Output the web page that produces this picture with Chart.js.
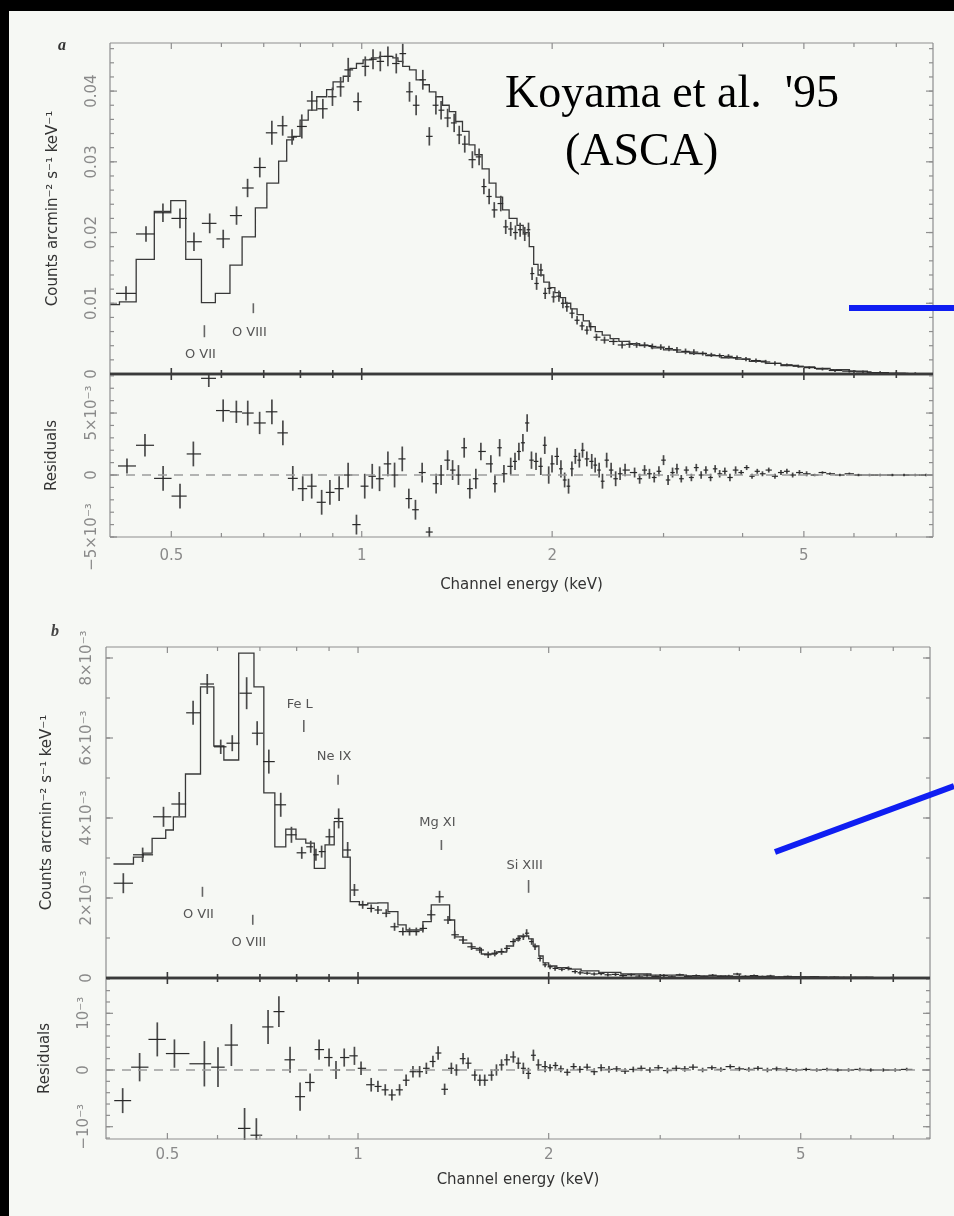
<!DOCTYPE html>
<html>
<head>
<meta charset="utf-8">
<script src="https://cdn.jsdelivr.net/npm/chart.js@4.4.1/dist/chart.umd.min.js"></script>
<style>
html,body{margin:0;padding:0;background:#000;width:954px;height:1216px;overflow:hidden;}
#bg{position:absolute;left:9px;top:11px;width:945px;height:1205px;background:#f6f8f4;}
canvas{position:absolute;}
#ov{position:absolute;left:0;top:0;pointer-events:none;}
</style>
</head>
<body>
<div id="bg"></div>
<canvas id="cA1"></canvas>
<canvas id="cA2"></canvas>
<canvas id="cB1"></canvas>
<canvas id="cB2"></canvas>
<svg id="ov" width="954" height="1216">
  <line x1="849" y1="308" x2="954" y2="308" stroke="#0f1ef2" stroke-width="6"/>
  <line x1="775" y1="852" x2="954" y2="786" stroke="#0f1ef2" stroke-width="6"/>
  <text x="505" y="107" font-family="'Liberation Serif','Times New Roman',serif" font-size="46" fill="#000" style="white-space:pre">Koyama et al.  '95</text>
  <text x="565" y="165" font-family="'Liberation Serif','Times New Roman',serif" font-size="46" fill="#000">(ASCA)</text>
  <text x="58" y="50" font-family="'Liberation Serif',serif" font-style="italic" font-weight="bold" font-size="16" fill="#333">a</text>
  <text x="51" y="636" font-family="'Liberation Serif',serif" font-style="italic" font-weight="bold" font-size="16" fill="#444">b</text>
</svg>
<script>
// ---------- axes ----------
const xMin = 0.4, xMax = 8;
const xTickVals = [0.5, 1, 2, 5];
const xTickLabels = ['0.5', '1', '2', '5'];
const xMinorTicks = [0.6, 0.7, 0.8, 0.9, 3, 4, 6, 7];
const xTitle = 'Channel energy (keV)';

const aYTickVals = [0, 0.01, 0.02, 0.03, 0.04];
const aYTickLabels = ['0', '0.01', '0.02', '0.03', '0.04'];
const aResTickVals = [-0.005, 0, 0.005];
const aResTickLabels = ['\u22125\u00d710\u207b\u00b3', '0', '5\u00d710\u207b\u00b3'];
const bYTickVals = [0, 0.002, 0.004, 0.006, 0.008];
const bYTickLabels = ['0', '2\u00d710\u207b\u00b3', '4\u00d710\u207b\u00b3', '6\u00d710\u207b\u00b3', '8\u00d710\u207b\u00b3'];
const bResTickVals = [-0.001, 0, 0.001];
const bResTickLabels = ['\u221210\u207b\u00b3', '0', '10\u207b\u00b3'];

// ---------- panel a : spectrum ----------
const aSpecE = [0.424,0.456,0.485,0.516,0.543,0.575,0.604,0.634,0.660,0.690,
0.721,0.750,0.776,0.804,0.834,0.868,0.899,0.926,0.952,0.987,
1.013,1.042,1.070,1.100,1.134,1.161,1.190,1.219,1.249,1.279,
1.310,1.335,1.367,1.400,1.426,1.455,1.496,1.533,1.560,1.590,
1.620,1.659,1.689,1.720,1.750,1.780,1.810,1.835,1.859,1.890,
1.920,1.950,1.980,2.010,2.050,2.080,2.110,2.150,2.190,2.230,
2.270,2.300,2.350,2.420,2.500,2.580,2.650,2.720,2.800,2.880,
2.970,3.060,3.150,3.250,3.350,3.460,3.570,3.680,3.800,3.920,
4.050,4.200,4.350,4.500,4.700,4.900,5.100,5.350,5.600,5.900,
6.200,6.600,7.000,7.500];
const aSpecV = [0.0114,0.0198,0.0228,0.0220,0.0187,0.0213,0.0191,0.0224,0.0263,0.0292,
0.0341,0.0351,0.0335,0.0350,0.0386,0.0375,0.0392,0.0406,0.0430,0.0385,
0.0435,0.0445,0.0442,0.0449,0.0439,0.0453,0.0399,0.0380,0.0416,0.0336,
0.0380,0.0373,0.0362,0.0355,0.0338,0.0325,0.0303,0.0307,0.0265,0.0251,
0.0232,0.0241,0.0208,0.0205,0.0200,0.0204,0.0198,0.0204,0.0142,0.0128,
0.0147,0.0114,0.0121,0.0109,0.0110,0.0100,0.0095,0.0086,0.0076,0.0068,
0.0062,0.0067,0.0052,0.0048,0.0046,0.0041,0.0042,0.0041,0.0041,0.0039,
0.0038,0.0036,0.0034,0.0032,0.0031,0.0029,0.0027,0.0026,0.0025,0.0023,
0.0021,0.0019,0.0017,0.0015,0.0013,0.0011,0.0009,0.0007,0.0005,0.0004,
0.0003,0.0002,0.0001,0.00005];
const aSpecErr = [0.0010,0.0011,0.0013,0.0014,0.0013,0.0014,0.0013,0.0013,0.0013,0.0014,
0.0017,0.0014,0.0011,0.0017,0.0014,0.0014,0.0013,0.0014,0.0017,0.0013,
0.0014,0.0014,0.0014,0.0014,0.0014,0.0014,0.0014,0.0014,0.0014,0.0013,
0.0013,0.0013,0.0013,0.0013,0.0013,0.0012,0.0012,0.0012,0.0011,0.0011,
0.0011,0.0011,0.0010,0.0010,0.0010,0.0010,0.0010,0.0010,0.0009,0.0009,
0.0009,0.0008,0.0008,0.0008,0.0008,0.0007,0.0007,0.0007,0.0006,0.0006,
0.0006,0.0006,0.0005,0.0005,0.0005,0.0005,0.0005,0.0004,0.0004,0.0004,
0.0004,0.0004,0.0004,0.0004,0.0004,0.0003,0.0003,0.0003,0.0003,0.0003,
0.0003,0.0003,0.0003,0.0003,0.0002,0.0002,0.0002,0.0002,0.0002,0.0002,
0.0002,0.0002,0.0002,0.0002];

// panel a : model (bin left edges, value over the bin)
const aModelE = [0.400,0.414,0.440,0.470,0.499,0.527,0.558,0.587,0.619,0.647,
0.679,0.708,0.739,0.761,0.780,0.799,0.823,0.849,0.880,0.901,
0.935,0.958,0.981,1.005,1.036,1.067,1.120,1.141,1.161,1.190,
1.219,1.249,1.279,1.310,1.342,1.375,1.408,1.443,1.478,1.51,
1.55,1.59,1.63,1.67,1.71,1.76,1.80,1.84,1.87,1.90,
1.94,1.98,2.02,2.06,2.10,2.14,2.19,2.24,2.29,2.34,
2.40,2.47,2.55,2.65,2.75,2.87,3.0,3.15,3.3,3.5,
3.7,3.9,4.1,4.35,4.6,4.9,5.2,5.5,5.9,6.3,
6.8,7.3,7.9];
const aModelV = [0.0098,0.0102,0.0162,0.0230,0.0245,0.0162,0.0101,0.0114,0.0154,0.0194,
0.0235,0.0270,0.0301,0.0331,0.0336,0.0359,0.0373,0.0392,0.0402,0.0413,
0.0421,0.0432,0.0439,0.0444,0.0447,0.0449,0.0447,0.0442,0.0435,0.0430,
0.0416,0.0409,0.0399,0.0392,0.0380,0.0371,0.0357,0.0343,0.0324,0.0310,
0.0290,0.0270,0.0250,0.0232,0.0220,0.0210,0.0200,0.0180,0.0155,0.0140,
0.0130,0.0122,0.0115,0.0108,0.0100,0.0092,0.0084,0.0075,0.0067,0.0060,
0.0055,0.0050,0.0046,0.0043,0.0040,0.0037,0.0034,0.0031,0.0029,0.0026,
0.0023,0.0021,0.0018,0.0015,0.0012,0.0010,0.0008,0.0006,0.0004,0.0002,
0.0001,0.00005,0.00005];

// panel a : residuals
const aResE = [0.4255,0.4543,0.4853,0.5161,0.5418,0.5731,0.6039,0.6336,0.6604,0.6896,
0.7211,0.7505,0.7781,0.8067,0.8335,0.8643,0.8906,0.9211,0.9517,0.9810,
1.011,1.039,1.067,1.100,1.127,1.159,1.187,1.216,1.246,1.279,
1.311,1.335,1.367,1.392,1.422,1.452,1.482,1.515,1.543,1.600,
1.624,1.652,1.678,1.720,1.747,1.772,1.798,1.826,1.855,1.886,
1.919,1.947,1.975,1.999,2.036,2.065,2.093,2.123,2.149,2.176,
2.208,2.234,2.269,2.310,2.339,2.373,2.402,2.439,2.479,2.520,
2.561,2.608,
2.70,2.75,2.80,2.85,2.90,2.95,3.00,3.05,3.10,3.15,
3.20,3.26,3.32,3.38,3.44,3.50,3.56,3.62,3.68,3.75,
3.82,3.90,3.98,4.06,4.14,4.22,4.30,4.40,4.50,4.60,
4.70,4.80,4.92,5.05,5.20,5.35,5.50,5.70,5.90,6.10,
6.35,6.60,6.90,7.20,7.50,7.80];
const aResV = [0.00073,0.0024,-0.00027,-0.0017,0.0017,0.0078,0.0052,0.0051,0.0050,0.0042,
0.0051,0.0034,-0.00027,-0.0011,-0.0009,-0.0022,-0.0014,-0.0011,0.0000,-0.0040,
-0.0009,-0.0001,-0.0003,0.0009,0.0000,0.0013,-0.0019,-0.0028,0.0002,-0.0046,
-0.0007,0.0000,0.0012,0.0004,0.0000,0.0022,-0.0011,-0.0003,0.0019,0.0009,
-0.0007,0.0022,0.0001,0.0007,0.0011,0.0019,0.0026,0.0042,0.0012,0.0011,
0.0007,0.0024,0.0000,0.0009,0.0015,0.0005,-0.0004,-0.0009,0.0005,0.0015,
0.0012,0.0020,0.0013,0.0011,0.0008,0.0004,-0.0005,0.0012,0.0004,-0.0003,
0.0001,0.0004,
0.0002,-0.0003,0.0004,0.0001,-0.0002,0.0003,0.0012,-0.0004,0.0002,0.0005,
-0.0003,0.0004,-0.0002,0.0006,0.0000,0.0004,-0.0002,0.0005,0.0001,0.0003,
-0.0002,0.0004,0.0002,0.0006,-0.0001,0.0003,0.0001,0.0004,-0.0001,0.0002,
0.0003,0.0000,0.0002,0.0001,0.0000,0.0002,0.0001,0.0000,0.0001,0.0000,
0.0000,0.0000,0.0000,0.0000,0.0000,0.0000];
const aResErr = [0.0006,0.0009,0.0010,0.0010,0.0010,0.0007,0.0009,0.0009,0.0010,0.0009,
0.0010,0.0010,0.0010,0.0010,0.0010,0.0010,0.0010,0.0010,0.0010,0.0008,
0.0010,0.0010,0.0010,0.0010,0.0010,0.0010,0.0008,0.0008,0.0008,0.0004,
0.0008,0.0008,0.0008,0.0008,0.0008,0.0008,0.0008,0.0008,0.0007,0.0007,
0.0007,0.0007,0.0007,0.0007,0.0007,0.0007,0.0007,0.0007,0.0007,0.0007,
0.0007,0.0007,0.0007,0.0007,0.0007,0.0007,0.0006,0.0006,0.0006,0.0006,
0.0006,0.0006,0.0006,0.0006,0.0006,0.0006,0.0006,0.0006,0.0006,0.0006,
0.0005,0.0005,
0.0004,0.0004,0.0004,0.0004,0.0004,0.0004,0.0004,0.0004,0.0004,0.0004,
0.0003,0.0003,0.0003,0.0003,0.0003,0.0003,0.0003,0.0003,0.0003,0.0003,
0.0003,0.0003,0.0002,0.0002,0.0002,0.0002,0.0002,0.0002,0.0002,0.0002,
0.0002,0.0002,0.0002,0.0002,0.0001,0.0001,0.0001,0.0001,0.0001,0.0001,
0.0001,0.0001,0.0001,0.0001,0.0001,0.0001];

// ---------- panel b : spectrum ----------
const bSpecE = [0.426,0.457,0.493,0.522,0.549,0.578,0.607,0.633,0.667,0.693,
0.723,0.755,0.785,0.815,0.842,0.858,0.876,0.901,0.932,0.963,
0.987,1.017,1.049,1.075,1.108,1.142,1.177,1.206,1.236,1.266,
1.305,1.345,1.387,1.421,1.465,1.511,1.557,1.605,1.644,1.685,
1.717,1.759,1.791,1.824,1.846,1.880,1.903,1.938,1.974,2.010,
2.047,2.098,2.149,2.202,2.242,
2.30,2.36,2.42,2.48,2.55,2.62,2.70,2.78,2.86,2.95,
3.04,3.13,3.22,3.32,3.42,3.52,3.63,3.74,3.85,3.97,
4.09,4.22,4.35,4.48,4.62,4.77,4.92,5.08,5.25,5.45,
5.65,5.85,6.10,6.35,6.65,6.95,7.25];
const bSpecV = [0.00237,0.00308,0.00403,0.00435,0.00663,0.00735,0.00578,0.00587,0.00712,0.00612,
0.00541,0.00433,0.00358,0.00313,0.00328,0.00308,0.00316,0.00353,0.00399,0.00320,
0.00220,0.00183,0.00174,0.00170,0.00162,0.00128,0.00116,0.00116,0.00116,0.00124,
0.00158,0.00203,0.00145,0.00108,0.00095,0.00078,0.00070,0.00058,0.00062,0.00066,
0.00074,0.00091,0.00099,0.00103,0.00112,0.00091,0.00078,0.00049,0.00033,0.00028,
0.00024,0.00022,0.00024,0.00016,0.00013,
0.00012,0.00010,0.00011,0.00008,0.00009,0.00006,0.00008,0.00005,0.00007,0.00004,
0.00006,0.00003,0.00008,0.00004,0.00006,0.00003,0.00007,0.00004,0.00005,0.00010,
0.00004,0.00006,0.00003,0.00005,0.00002,0.00004,0.00003,0.00002,0.00003,0.00001,
0.00002,0.00001,0.00001,0.00001,0.00000,0.00001,0.00000];
const bSpecErr = [0.00025,0.00018,0.00025,0.0003,0.0003,0.00025,0.00018,0.0002,0.0004,0.0003,
0.0003,0.0003,0.0002,0.00015,0.00015,0.00015,0.00015,0.0002,0.00025,0.0002,
0.00015,0.0001,0.0001,0.0001,0.0001,0.0001,0.0001,0.0001,0.0001,0.0001,
0.00012,0.00015,0.0001,0.0001,0.0001,0.00008,0.00008,0.00008,0.00008,0.00008,
0.00008,0.00008,0.00008,0.00008,0.0001,0.00008,0.00008,0.00008,0.00006,0.00006,
0.00006,0.00005,0.00005,0.00005,0.00005,
0.00004,0.00004,0.00004,0.00004,0.00004,0.00004,0.00004,0.00004,0.00004,0.00004,
0.00004,0.00004,0.00003,0.00003,0.00003,0.00003,0.00003,0.00003,0.00003,0.00003,
0.00003,0.00003,0.00003,0.00003,0.00003,0.00002,0.00002,0.00002,0.00002,0.00002,
0.00002,0.00002,0.00002,0.00002,0.00002,0.00002,0.00002];

// panel b : model (bin left edges)
const bModelE = [0.411,0.442,0.458,0.473,0.497,0.511,0.534,0.564,0.592,0.614,
0.648,0.685,0.710,0.739,0.769,0.798,0.827,0.853,0.887,0.917,
0.946,0.972,1.005,1.036,1.075,1.115,1.156,1.191,1.228,1.266,
1.305,1.395,1.421,1.465,1.511,1.566,1.654,1.716,1.760,1.800,
1.860,1.890,1.930,1.960,2.000,2.060,2.150,2.250,2.400,2.600,
2.900,3.300,3.800,4.500,5.500,6.500,7.500];
const bModelV = [0.00285,0.00302,0.00312,0.00349,0.0037,0.00403,0.0051,0.00728,0.0058,0.00545,
0.00812,0.00728,0.00463,0.00328,0.00372,0.00347,0.00337,0.00274,0.00333,0.00391,
0.00302,0.00191,0.00183,0.00187,0.00188,0.00166,0.00133,0.0012,0.0012,0.00141,
0.00183,0.00145,0.00103,0.00087,0.00074,0.0006,0.00065,0.0008,0.00095,0.00105,
0.00098,0.0008,0.00055,0.00038,0.0003,0.00026,0.00022,0.00018,0.00014,0.0001,
0.00007,0.00005,0.00004,0.00003,0.00002,0.00001,0.00001];

// panel b : residuals
const bResE = [0.425,0.452,0.482,0.513,0.572,0.601,0.631,0.662,0.691,0.721,
0.750,0.781,0.810,0.840,0.868,0.900,0.923,0.951,0.987,1.011,
1.049,1.075,1.104,1.131,1.163,1.191,1.221,1.251,1.282,1.313,
1.338,1.370,1.404,1.430,1.465,1.492,1.529,1.557,1.585,1.625,
1.654,1.685,1.717,1.759,1.791,1.824,1.858,1.892,1.926,1.974,
2.01,2.05,2.09,2.14,2.19,2.24,2.30,2.36,2.42,2.49,
2.56,2.64,2.72,2.80,2.89,2.98,3.08,3.18,3.28,3.38,
3.50,3.62,3.74,3.87,4.00,4.14,4.28,4.43,4.58,4.75,
4.92,5.10,5.30,5.50,5.72,5.95,6.20,6.45,6.75,7.05,
7.35];
const bResV = [-0.00054,0.00005,0.00054,0.00029,0.00011,0.00005,0.00044,-0.00103,-0.00115,0.00076,
0.00103,0.00018,-0.00047,-0.00022,0.00036,0.00022,0.00000,0.00022,0.00025,0.00003,
-0.00026,-0.00029,-0.00035,-0.00044,-0.00035,-0.00018,-0.00003,-0.00003,0.00003,0.00015,
0.00030,-0.00034,0.00003,0.00000,0.00020,0.00012,-0.00009,-0.00018,-0.00018,-0.00009,
0.00000,0.00009,0.00018,0.00023,0.00012,0.00003,-0.00006,0.00026,0.00009,0.00006,
0.00004,0.00008,0.00002,-0.00004,0.00006,0.00001,0.00005,-0.00003,0.00004,0.00001,
0.00002,-0.00002,0.00001,0.00003,0.00000,0.00004,-0.00001,0.00003,0.00002,0.00005,
0.00000,0.00004,0.00001,0.00006,0.00002,0.00001,0.00003,0.00000,0.00002,0.00001,
0.00000,0.00001,0.00000,0.00001,0.00000,0.00000,0.00001,0.00000,0.00000,0.00000,
0.00001];
const bResErr = [0.00022,0.00025,0.0003,0.00025,0.0004,0.00035,0.00037,0.00036,0.0003,0.0003,
0.00027,0.00023,0.00025,0.00016,0.00018,0.00016,0.00016,0.00016,0.00016,0.00012,
0.00012,0.0001,0.0001,0.0001,0.0001,0.0001,0.0001,0.0001,0.0001,0.0001,
0.00012,0.0001,0.0001,0.0001,0.0001,0.0001,0.0001,0.0001,0.0001,0.0001,
0.0001,0.0001,0.0001,0.0001,0.0001,0.0001,0.0001,0.0001,0.0001,0.0001,
0.00006,0.00006,0.00006,0.00006,0.00006,0.00006,0.00006,0.00006,0.00006,0.00006,
0.00005,0.00005,0.00005,0.00005,0.00005,0.00005,0.00005,0.00005,0.00005,0.00005,
0.00004,0.00004,0.00004,0.00004,0.00004,0.00004,0.00004,0.00004,0.00004,0.00004,
0.00003,0.00003,0.00003,0.00003,0.00003,0.00003,0.00003,0.00003,0.00003,0.00003,
0.00003];

// ---------- line identifications ----------
const aLineNames = ['O VII', 'O VIII'];
const aLineE = [0.564, 0.674];
const aLineMarkLo = [0.0052, 0.0086];
const aLineMarkHi = [0.0069, 0.0100];
const aLineTextY = [0.0027, 0.0059];
const bLineNames = ['Fe L', 'Ne IX', 'Mg XI', 'Si XIII', 'O VII', 'O VIII'];
const bLineE = [0.821, 0.930, 1.354, 1.859, 0.568, 0.682];
const bLineMarkLo = [0.00615, 0.00483, 0.00320, 0.00213, 0.00203, 0.00133];
const bLineMarkHi = [0.00645, 0.00508, 0.00345, 0.00245, 0.00228, 0.00158];
const bLineTextY = [0.00683, 0.00553, 0.00388, 0.00280, 0.00158, 0.00088];

// ================= drawing =================
const FONT = "'DejaVu Sans', sans-serif";
Chart.defaults.font.family = FONT;
Chart.defaults.font.size = 15;
const tickColor = '#8a8a8a';
const titleColor = '#333333';

function labelFor(vals, labels, v) {
  const i = vals.findIndex(t => Math.abs(t - v) < 1e-10);
  return i < 0 ? '' : labels[i];
}
function stepTicks(min, max, step) {
  const out = [];
  for (let k = Math.ceil(min / step - 1e-9); k * step <= max + 1e-12; k++) out.push(+(k * step).toFixed(7));
  return out;
}
const measureCtx = document.createElement('canvas').getContext('2d');
function yTickPad(labels, dist) {
  measureCtx.font = '15px ' + FONT;
  const w = Math.max(...labels.map(t => measureCtx.measureText(t).width));
  return dist - w / 2;
}
function seg(ctx, x1, y1, x2, y2) { ctx.beginPath(); ctx.moveTo(x1, y1); ctx.lineTo(x2, y2); ctx.stroke(); }

const framePlugin = {
  id: 'frame',
  afterDraw(chart, args, o) {
    const {ctx, chartArea: a} = chart;
    const xs = chart.scales.x, ys = chart.scales.y;
    ctx.save();
    if (o.zero) {
      ctx.strokeStyle = '#9c9c9c'; ctx.lineWidth = 1.5; ctx.setLineDash([9, 7]);
      const y0 = ys.getPixelForValue(0);
      seg(ctx, a.left, y0, a.right, y0);
      ctx.setLineDash([]);
    }
    ctx.strokeStyle = '#8e8e8e'; ctx.lineWidth = 1.2;
    seg(ctx, a.left, a.top, a.left, a.bottom);
    seg(ctx, a.right, a.top, a.right, a.bottom);
    o.yMajor.forEach(v => { const y = ys.getPixelForValue(v); seg(ctx, a.left, y, a.left + 7, y); seg(ctx, a.right, y, a.right - 7, y); });
    o.yMinor.forEach(v => { const y = ys.getPixelForValue(v); seg(ctx, a.left, y, a.left + 4, y); seg(ctx, a.right, y, a.right - 4, y); });
    const edge = (y, kind, dir) => {
      const thick = kind === 'thick';
      ctx.strokeStyle = thick ? '#3a3a3a' : '#8e8e8e';
      ctx.lineWidth = thick ? 2.6 : 1.2;
      seg(ctx, a.left, y, a.right, y);
      ctx.lineWidth = thick ? 1.6 : 1.2;
      xTickVals.forEach(v => { const x = xs.getPixelForValue(v); seg(ctx, x, y, x, y + dir * 6); });
      xMinorTicks.forEach(v => { const x = xs.getPixelForValue(v); seg(ctx, x, y, x, y + dir * 4); });
    };
    edge(a.top, o.top, 1);
    edge(a.bottom, o.bottom, -1);
    ctx.restore();
  }
};

const errPlugin = {
  id: 'errbars',
  afterDatasetsDraw(chart) {
    const {ctx, chartArea: a} = chart;
    const xs = chart.scales.x, ys = chart.scales.y;
    chart.data.datasets.forEach(ds => {
      if (!ds.errY) return;
      const p = ds.data, n = p.length;
      ctx.save();
      ctx.beginPath(); ctx.rect(a.left, a.top - 1, a.right - a.left, a.bottom - a.top + 2); ctx.clip();
      for (let i = 0; i < n; i++) {
        const e = p[i].x, v = p[i].y;
        const lo = i > 0 ? Math.sqrt(p[i - 1].x * e) : e * e / Math.sqrt(e * p[i + 1].x);
        const hi = i < n - 1 ? Math.sqrt(e * p[i + 1].x) : e * e / Math.sqrt(p[i - 1].x * e);
        const px = xs.getPixelForValue(e), py = ys.getPixelForValue(v);
        const yt = ys.getPixelForValue(v + ds.errY[i]), yb = ys.getPixelForValue(v - ds.errY[i]);
        ctx.strokeStyle = '#4a4a4a'; ctx.lineWidth = 1.7;
        seg(ctx, px, yt, px, yb);
        ctx.strokeStyle = '#2a2a2a'; ctx.lineWidth = 1.2;
        seg(ctx, xs.getPixelForValue(lo), py, xs.getPixelForValue(hi), py);
      }
      ctx.restore();
    });
  }
};

const idPlugin = {
  id: 'lineids',
  afterDraw(chart, args, o) {
    if (!o.names) return;
    const {ctx} = chart;
    const xs = chart.scales.x, ys = chart.scales.y;
    ctx.save();
    ctx.strokeStyle = '#666'; ctx.lineWidth = 1.6; ctx.fillStyle = '#555';
    ctx.font = '13px ' + FONT; ctx.textAlign = 'center'; ctx.textBaseline = 'middle';
    o.names.forEach((name, i) => {
      const x = xs.getPixelForValue(o.energies[i]);
      seg(ctx, x, ys.getPixelForValue(o.lo[i]), x, ys.getPixelForValue(o.hi[i]));
      ctx.fillText(name, x - 4, ys.getPixelForValue(o.textY[i]));
    });
    ctx.restore();
  }
};

function makeChart(id, box, cfg) {
  const cv = document.getElementById(id);
  const padT = cfg.xAxis ? 12 : 32, padR = 6, axisW = 70;
  const xH = cfg.xAxis ? 70 : 0, padB = cfg.xAxis ? 0 : 10;
  const left = box.L - axisW, top = box.T - padT;
  cv.width = Math.round(box.R + padR - left);
  cv.height = Math.round(box.B - box.T + padT + padB + xH);
  cv.style.left = left + 'px'; cv.style.top = top + 'px';
  cv.style.width = cv.width + 'px'; cv.style.height = cv.height + 'px';

  const datasets = [];
  if (cfg.modelE) {
    datasets.push({
      type: 'line', label: 'model',
      data: cfg.modelE.map((e, i) => ({x: e, y: cfg.modelV[i]})),
      stepped: 'before', borderColor: '#383838', borderWidth: 1.3,
      pointRadius: 0, fill: false
    });
  }
  datasets.push({
    type: 'scatter', label: 'data',
    data: cfg.E.map((e, i) => ({x: e, y: cfg.V[i]})),
    errY: cfg.err, pointRadius: 0, pointHoverRadius: 0
  });

  return new Chart(cv, {
    type: 'scatter',
    data: {datasets},
    options: {
      responsive: false, animation: false, devicePixelRatio: 1,
      events: [],
      layout: {padding: {left: 0, right: padR, top: padT, bottom: padB}},
      plugins: {
        legend: {display: false}, tooltip: {enabled: false},
        frame: {top: cfg.topEdge, bottom: cfg.bottomEdge, zero: cfg.zero,
                yMajor: cfg.yVals, yMinor: stepTicks(cfg.yMin, cfg.yMax, cfg.yMinorStep)},
        lineids: cfg.ids || {}
      },
      scales: {
        x: {
          type: 'logarithmic', min: xMin, max: xMax, display: !!cfg.xAxis,
          afterBuildTicks: s => { s.ticks = xTickVals.map(v => ({value: v})); },
          afterFit: s => { if (cfg.xAxis) s.height = xH; s.paddingLeft = 0; s.paddingRight = 0; },
          grid: {display: false, drawTicks: false}, border: {display: false},
          ticks: {color: tickColor, font: {size: 15}, padding: cfg.xLabelPad || 0,
                  minRotation: 0, maxRotation: 0, autoSkip: false,
                  callback: v => labelFor(xTickVals, xTickLabels, v)},
          title: {display: !!cfg.xAxis, text: xTitle, color: titleColor, font: {size: 15},
                  padding: {top: 0, bottom: cfg.xTitlePad || 0}}
        },
        y: {
          type: 'linear', position: 'left', min: cfg.yMin, max: cfg.yMax,
          afterBuildTicks: s => { s.ticks = cfg.yVals.map(v => ({value: v})); },
          afterFit: s => { s.width = axisW; s.paddingTop = 0; s.paddingBottom = 0; },
          grid: {display: false, drawTicks: false}, border: {display: false},
          ticks: {color: tickColor, font: {size: 15}, minRotation: 90, maxRotation: 90,
                  crossAlign: 'center', padding: yTickPad(cfg.yLabels, cfg.yLabelDist),
                  callback: v => labelFor(cfg.yVals, cfg.yLabels, v)},
          title: {display: true, text: cfg.yTitle, color: titleColor, font: {size: 15},
                  padding: {top: cfg.yTitlePad, bottom: 0}}
        }
      }
    },
    plugins: [framePlugin, errPlugin, idPlugin]
  });
}

makeChart('cA1', {L: 110, T: 43, R: 933, B: 374}, {
  modelE: aModelE, modelV: aModelV, E: aSpecE, V: aSpecV, err: aSpecErr,
  yMin: 0, yMax: 0.0468, yVals: aYTickVals, yLabels: aYTickLabels, yMinorStep: 0.002,
  yLabelDist: 18, yTitle: 'Counts arcmin\u207b\u00b2 s\u207b\u00b9 keV\u207b\u00b9', yTitlePad: 4,
  topEdge: 'thin', bottomEdge: 'thick',
  ids: {names: aLineNames, energies: aLineE, lo: aLineMarkLo, hi: aLineMarkHi, textY: aLineTextY}
});
makeChart('cA2', {L: 110, T: 374, R: 933, B: 537}, {
  E: aResE, V: aResV, err: aResErr,
  yMin: -0.005, yMax: 0.00815, yVals: aResTickVals, yLabels: aResTickLabels, yMinorStep: 0.001,
  yLabelDist: 18, yTitle: 'Residuals', yTitlePad: 3,
  topEdge: 'thick', bottomEdge: 'thin', zero: true,
  xAxis: true, xLabelPad: 10, xTitlePad: 13
});
makeChart('cB1', {L: 106, T: 647, R: 930, B: 978}, {
  modelE: bModelE, modelV: bModelV, E: bSpecE, V: bSpecV, err: bSpecErr,
  yMin: 0, yMax: 0.008275, yVals: bYTickVals, yLabels: bYTickLabels, yMinorStep: 0.001,
  yLabelDist: 19, yTitle: 'Counts arcmin\u207b\u00b2 s\u207b\u00b9 keV\u207b\u00b9', yTitlePad: 2,
  topEdge: 'thin', bottomEdge: 'thick',
  ids: {names: bLineNames, energies: bLineE, lo: bLineMarkLo, hi: bLineMarkHi, textY: bLineTextY}
});
makeChart('cB2', {L: 106, T: 978, R: 930, B: 1139}, {
  E: bResE, V: bResV, err: bResErr,
  yMin: -0.001217, yMax: 0.001623, yVals: bResTickVals, yLabels: bResTickLabels, yMinorStep: 0.0002,
  yLabelDist: 22, yTitle: 'Residuals', yTitlePad: 0,
  topEdge: 'thick', bottomEdge: 'thin', zero: true,
  xAxis: true, xLabelPad: 7, xTitlePad: 20
});
</script>
</body>
</html>
